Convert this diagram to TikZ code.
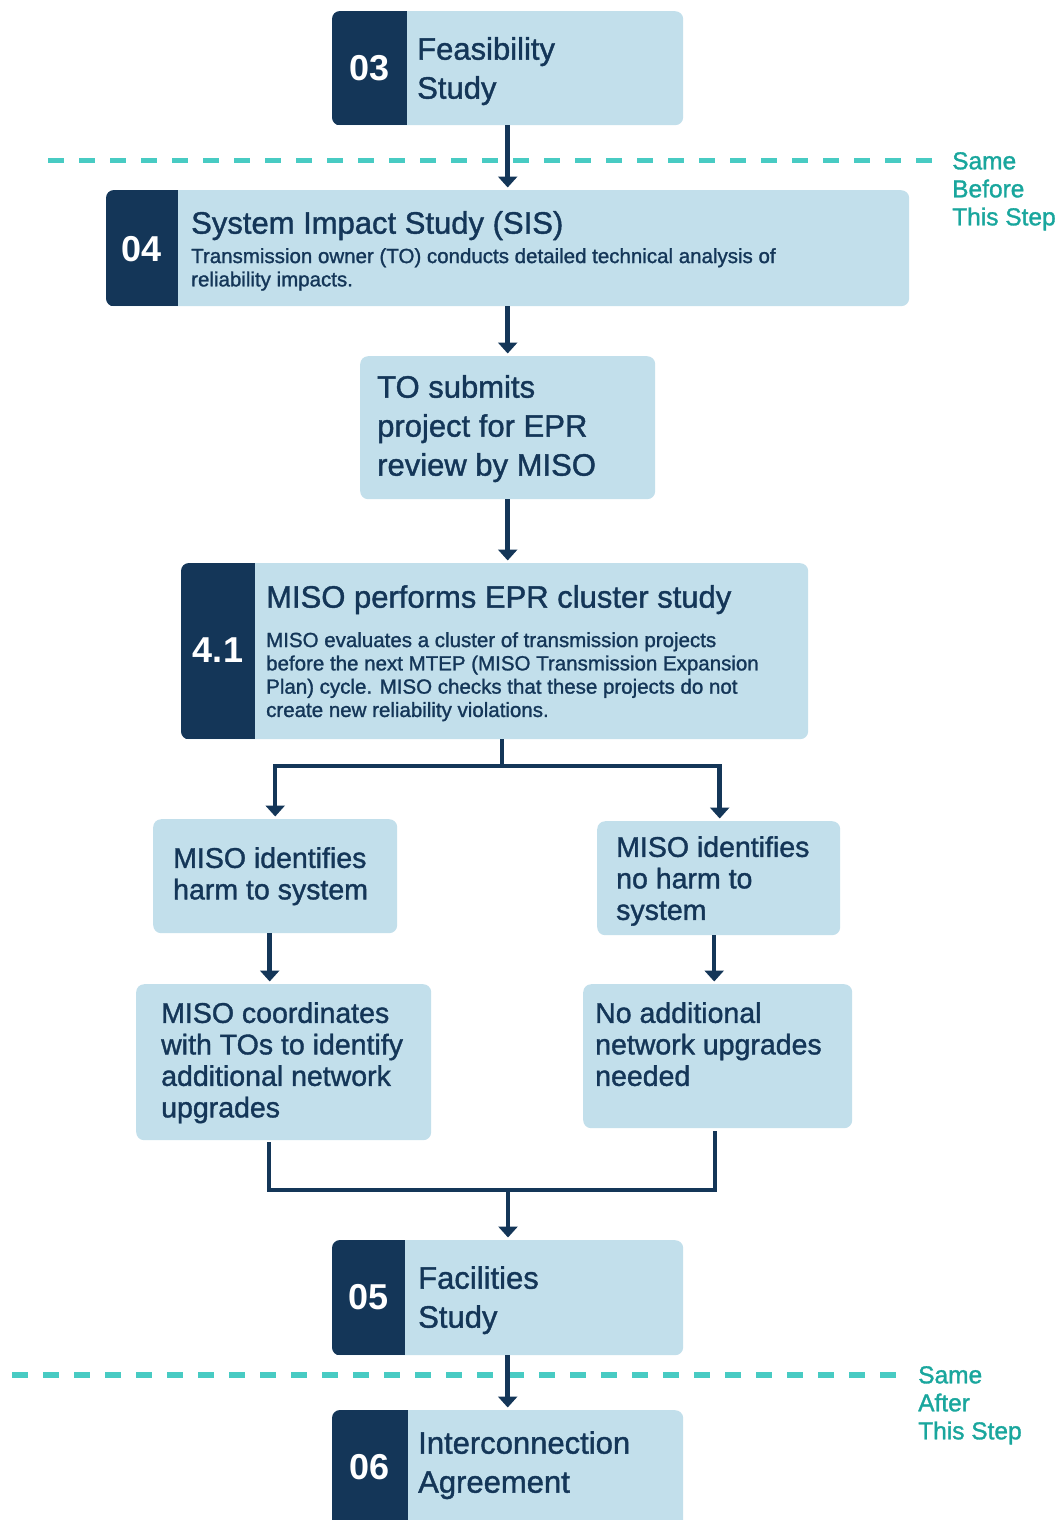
\documentclass[tikz,border=0pt]{standalone}
\usepackage{fontspec}
\setmainfont{Liberation Sans}
\newfontfamily\medfont[FakeBold=1.3]{Liberation Sans}
\usetikzlibrary{arrows.meta,calc}

\definecolor{navy}{HTML}{143658}
\definecolor{paleblue}{HTML}{C2DFEB}
\definecolor{dashteal}{HTML}{48CBC3}
\definecolor{labelteal}{HTML}{19A69D}

\begin{document}
\begin{tikzpicture}[x=1pt,y=-1pt,
  card/.style={fill=paleblue, rounded corners=8pt, inner sep=0pt, anchor=north west},
  numtxt/.style={text=white, inner sep=0pt, font=\fontsize{36}{40}\selectfont\bfseries},
  head/.style={text=navy, anchor=north west, inner sep=0pt, align=left,
               font=\fontsize{31}{39}\selectfont\medfont},
  smallhead/.style={head, font=\fontsize{28.5}{31.5}\selectfont\medfont},
  detail/.style={text=navy, anchor=north west, inner sep=0pt, align=left,
                 font=\fontsize{20.5}{23.3}\selectfont\medfont},
  sidelabel/.style={text=labelteal, anchor=north west, inner sep=0pt, align=left,
                    font=\fontsize{24.5}{28}\selectfont\medfont},
  dashline/.style={draw=dashteal, line width=5.5pt, dash pattern=on 16pt off 15pt},
  link/.style={draw=navy, line width=4.5pt},
  arr/.style={link, -{Triangle[width=19pt,length=11pt]}, shorten >=2.5pt},
]
\useasboundingbox (0,0) rectangle (1064,1520);
\clip (0,0) rectangle (1064,1520);

% numbered step cards: light card with a dark number strip on the left
\newcommand{\numstrip}[2]{%
  \begin{scope}
    \clip[rounded corners=8pt] (#1.north west) rectangle (#1.south east);
    \fill[navy] (#1.north west) rectangle (#1.south west -| #2,0);
  \end{scope}}

% ---- cards ----
\node[card, minimum width=351pt, minimum height=114pt] (f3) at (332,11) {};
\numstrip{f3}{407}
\node[card, minimum width=803pt, minimum height=116pt] (sis) at (106,190) {};
\numstrip{sis}{178}
\node[card, minimum width=295pt, minimum height=143pt] (to) at (360,356) {};
\node[card, minimum width=627pt, minimum height=176pt] (c41) at (181,563) {};
\numstrip{c41}{255}
\node[card, minimum width=244pt, minimum height=114pt] (harm) at (153,819) {};
\node[card, minimum width=243pt, minimum height=114pt] (noharm) at (597,821) {};
\node[card, minimum width=295pt, minimum height=156pt] (coord) at (136,984) {};
\node[card, minimum width=269pt, minimum height=144pt] (noadd) at (583,984) {};
\node[card, minimum width=351pt, minimum height=115pt] (f5) at (332,1240) {};
\numstrip{f5}{405}
\node[card, minimum width=351pt, minimum height=130pt] (f6) at (332,1410) {};
\numstrip{f6}{408}

% ---- step numbers ----
\node[numtxt] (n3) at (369.5,68) {03};
\node[numtxt] (n4) at (142,249) {04};
\node[numtxt] (n41) at (218,650) {4.1};
\node[numtxt] (n5) at (368.5,1297) {05};
\node[numtxt] (n6) at (370,1467) {06};

% ---- card texts ----
\node[head] (t3) at (417,37) {Feasibility\\Study};
\node[head] (t4) at (191,211) {System Impact Study (SIS)};
\node[detail] (d4) at (191,248) {Transmission owner (TO) conducts detailed technical analysis of\\reliability impacts.};
\node[head] (tto) at (377,375) {TO submits\\project for EPR\\review by MISO};
\node[head] (t41) at (266,585) {MISO performs EPR cluster study};
\node[detail] (d41) at (266,632) {MISO evaluates a cluster of transmission projects\\before the next MTEP (MISO Transmission Expansion\\Plan) cycle. MISO checks that these projects do not\\create new reliability violations.};
\node[smallhead] (tharm) at (173,847) {MISO identifies\\harm to system};
\node[smallhead] (tnoharm) at (616,836) {MISO identifies\\no harm to\\system};
\node[smallhead] (tcoord) at (161,1002) {MISO coordinates\\with TOs to identify\\additional network\\upgrades};
\node[smallhead] (tnoadd) at (595,1002) {No additional\\network upgrades\\needed};
\node[head] (t5) at (418,1266) {Facilities\\Study};
\node[head] (t6) at (418,1431) {Interconnection\\Agreement};

% ---- dashed scope boundaries ----
\coordinate (b1w) at (48,160.5);
\coordinate (b1e) at (935,160.5);
\draw[dashline] (b1w) -- (b1e);
\node[sidelabel] (lbefore) at (952,152) {Same\\Before\\This Step};
\coordinate (b2w) at (12,1375);
\coordinate (b2e) at (904,1375);
\draw[dashline] (b2w) -- (b2e);
\node[sidelabel] (lafter) at (918,1366) {Same\\After\\This Step};

% ---- connectors ----
\draw[arr] (f3.south) -- (f3.south |- sis.north);
\draw[arr] (sis.south -| to.north) -- (to.north);
\draw[arr] (to.south) -- (to.south |- c41.north);

\coordinate (split) at (502,766);
\draw[link] (split |- c41.south) -- (split);
\draw[arr] (split) -| (harm.north);
\draw[arr] (split) -| ([xshift=1pt]noharm.north);

\draw[arr] ([xshift=-5.5pt]harm.south) -- ([xshift=-5.5pt]harm.south |- coord.north);
\draw[arr] ([xshift=-4.5pt]noharm.south) -- ([xshift=-4.5pt]noharm.south |- noadd.north);

\coordinate (merge) at (508,1190);
\draw[link] ([xshift=-14.5pt,yshift=-2pt]coord.south) |- (merge)
  -| ([xshift=-2.5pt,yshift=-3pt]noadd.south);
\draw[arr] (merge) -- (merge |- f5.north);
\draw[arr] (f5.south) -- (f5.south |- f6.north);
\end{tikzpicture}
\end{document}
